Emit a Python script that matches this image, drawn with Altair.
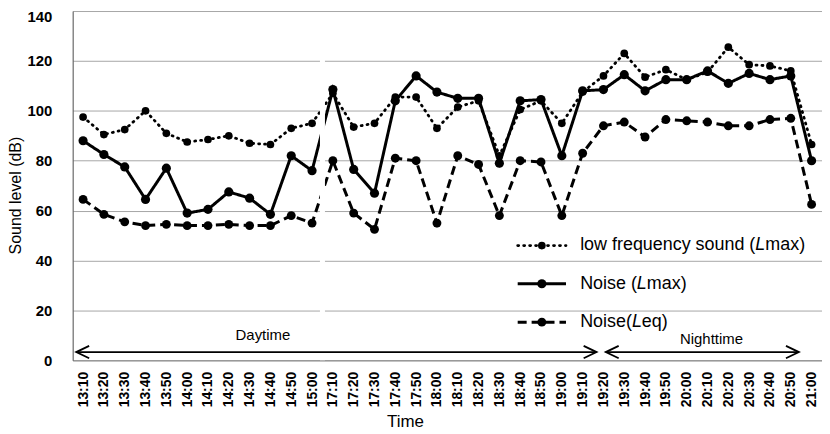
import altair as alt
import pandas as pd

# ---------------- data ----------------
times = ["13:10", "13:20", "13:30", "13:40", "13:50", "14:00", "14:10", "14:20",
         "14:30", "14:40", "14:50", "15:00",
         "17:10", "17:20", "17:30", "17:40", "17:50", "18:00", "18:10", "18:20",
         "18:30", "18:40", "18:50", "19:00", "19:10", "19:20", "19:30", "19:40",
         "19:50", "20:00", "20:10", "20:20", "20:30", "20:40", "20:50", "21:00"]

low_freq_lmax = [97.5, 90.5, 92.5, 100, 91, 87.5, 88.5, 90, 87, 86.5, 93, 95,
                 107, 93.5, 95, 105.5, 105.5, 93, 101.5, 104, 82, 100.5, 104, 95,
                 107.5, 114, 123, 113.5, 116.5, 112.5, 115.5, 125.5, 118.5, 118, 116, 86.5]

noise_lmax = [88, 82.5, 77.5, 64.5, 77, 59, 60.5, 67.5, 65, 58.5, 82, 76,
              108.5, 76.5, 67, 104, 114, 107.5, 105, 105, 79, 104, 104.5, 82,
              108, 108.5, 114.5, 108, 112.5, 112.5, 116, 111, 115, 112.5, 114, 80]

noise_leq = [64.5, 58.5, 55.5, 54, 54.5, 54, 54, 54.5, 54, 54, 58, 55,
             80, 59, 52.5, 81, 80, 55, 82, 78.5, 58, 80, 79.5, 58,
             83, 94, 95.5, 89.5, 96.5, 96, 95.5, 94, 94, 96.5, 97, 62.5]

series_names = ["low", "lmax", "leq"]
legend_parts = [("low frequency sound (", "L", "max)"),
                ("Noise (", "L", "max)"),
                ("Noise(", "L", "eq)")]

y_ticks = [0, 20, 40, 60, 80, 100, 120, 140]

# annotation layout (in axis units)
legend_line_x = [20.88, 23.2]
legend_line_y = [46, 30.7, 15.3]
legend_text_y = [44.2, 28.4, 13.5]
legend_text_x = 23.88
period_labels = ["Daytime", "Nighttime"]
period_label_x = [8.64, 30.19]
period_label_y = [8.1, 6.4]
period_arrow_from = [-0.33, 25.11]
period_arrow_to = [24.67, 34.39]
arrow_y = 3.3
gap_after = 11  # splice gap between 15:00 and 17:10

# ---------------- layout ----------------
W, H = 753, 351
PX = W / len(times)
FONT = "Liberation Sans"
LEG_FS = 18

AW = {' ': 278, '(': 333, ')': 333, 'L': 556, 'N': 722, 'a': 556, 'c': 500, 'd': 556,
      'e': 556, 'f': 278, 'i': 222, 'l': 222, 'm': 833, 'n': 556, 'o': 556, 'q': 556,
      'r': 333, 's': 500, 'u': 556, 'w': 722, 'x': 500, 'y': 500}


def text_w(s, fs):
    return sum(AW.get(c, 556) for c in s) / 1000 * fs


# main long table
rows = []
for name, vals in zip(series_names, [low_freq_lmax, noise_lmax, noise_leq]):
    for i, v in enumerate(vals):
        rows.append({"x": i, "y": v, "series": name, "grp": "main"})
for name, yy in zip(series_names, legend_line_y):
    for xx in legend_line_x:
        rows.append({"x": xx, "y": yy, "series": name, "grp": "legend"})
df_lines = pd.DataFrame(rows)

pts = [r for r in rows if r["grp"] == "main"]
for name, yy in zip(series_names, legend_line_y):
    pts.append({"x": sum(legend_line_x) / 2, "y": yy, "series": name, "grp": "legend"})
df_pts = pd.DataFrame(pts)

label_expr = "[" + ",".join("'%s'" % t for t in times) + "][datum.value]"

xscale = alt.Scale(domain=[-0.5, len(times) - 0.5], nice=False, zero=False)
yscale = alt.Scale(domain=[0, 140], nice=False)

xaxis = alt.Axis(values=list(range(len(times))), labelExpr=label_expr, labelAngle=270,
                 labelAlign="right", labelBaseline="middle", labelFont=FONT,
                 labelFontSize=14, labelFontWeight="bold", labelColor="black",
                 labelPadding=11, labelOverlap=False, labelFlush=False,
                 ticks=False, tickSize=0, grid=False, domainColor="#8a8a8a",
                 title="Time", titleFont=FONT, titleFontSize=17, titleFontWeight="normal",
                 titleColor="black", titleX=334, titleY=67, titleAlign="center",
                 titleBaseline="alphabetic")
yaxis = alt.Axis(values=y_ticks, labelFont=FONT, labelFontSize=15, labelFontWeight="bold",
                 labelColor="black", labelPadding=21, ticks=False, tickSize=0,
                 labelOffset={"expr": "datum.value == 140 ? 6 : 0"},
                 grid=True, gridColor="#a6a6a6", gridWidth=1, domainColor="#5a5a5a",
                 title="Sound level (dB)", titleFont=FONT, titleFontSize=16,
                 titleFontWeight="normal", titleColor="black", titleAngle=270,
                 titleX=-57, titleY=185, titleAlign="center", titleBaseline="middle")

X = alt.X("x:Q", scale=xscale, axis=xaxis)
Y = alt.Y("y:Q", scale=yscale, axis=yaxis)

styles = {
    "low": dict(dash=[1, 5], width=2.8, cap="round", size=60),
    "lmax": dict(dash=[1, 0], width=3, cap="butt", size=85),
    "leq": dict(dash=[9, 5], width=3, cap="butt", size=80),
}

layers = []
for name in series_names:
    st = styles[name]
    layers.append(
        alt.Chart(df_lines).transform_filter(alt.datum.series == name)
        .mark_line(color="black", strokeWidth=st["width"], strokeDash=st["dash"],
                   strokeCap=st["cap"])
        .encode(x=X, y=Y, detail="grp:N", order="x:Q")
    )
for name in series_names:
    st = styles[name]
    layers.append(
        alt.Chart(df_pts).transform_filter(alt.datum.series == name)
        .mark_point(filled=True, shape="circle", size=st["size"], color="black", opacity=1)
        .encode(x=X, y=Y)
    )

# splice gap
gap_df = pd.DataFrame({"x": [gap_after + 0.38], "x2": [gap_after + 0.62],
                       "y": [0], "y2": [124]})
layers.append(alt.Chart(gap_df).mark_rect(color="white")
              .encode(x=X, x2="x2:Q", y=Y, y2="y2:Q"))

# period arrows
arr_df = pd.DataFrame({"x": period_arrow_from, "x2": period_arrow_to,
                       "y": [arrow_y, arrow_y]})
layers.append(alt.Chart(arr_df).mark_rule(color="black", strokeWidth=1.8)
              .encode(x=X, x2="x2:Q", y=Y))
left_heads = pd.DataFrame({"x": period_arrow_from, "y": [arrow_y, arrow_y]})
right_heads = pd.DataFrame({"x": period_arrow_to, "y": [arrow_y, arrow_y]})
layers.append(alt.Chart(left_heads).mark_point(shape="M1,-0.48L0,0L1,0.48", size=676,
                                                filled=False, color="black",
                                                strokeWidth=1.8, opacity=1)
              .encode(x=X, y=Y))
layers.append(alt.Chart(right_heads).mark_point(shape="M-1,-0.48L0,0L-1,0.48", size=676,
                                                 filled=False, color="black",
                                                 strokeWidth=1.8, opacity=1)
              .encode(x=X, y=Y))

per_df = pd.DataFrame({"x": period_label_x, "y": period_label_y, "t": period_labels})
layers.append(alt.Chart(per_df).mark_text(font=FONT, fontSize=15, color="black",
                                           align="center", baseline="alphabetic")
              .encode(x=X, y=Y, text="t:N"))

# legend text pieces
reg, ital = [], []
for (pre, L, suf), yy in zip(legend_parts, legend_text_y):
    x_l = legend_text_x + text_w(pre, LEG_FS) / PX
    x_s = x_l + text_w(L, LEG_FS) / PX
    reg.append({"x": legend_text_x, "y": yy, "t": pre})
    reg.append({"x": x_s, "y": yy, "t": suf})
    ital.append({"x": x_l, "y": yy, "t": L})
layers.append(alt.Chart(pd.DataFrame(reg)).mark_text(font=FONT, fontSize=LEG_FS,
                                                      color="black", align="left",
                                                      baseline="alphabetic")
              .encode(x=X, y=Y, text="t:N"))
layers.append(alt.Chart(pd.DataFrame(ital)).mark_text(font=FONT, fontSize=LEG_FS,
                                                       fontStyle="italic",
                                                       color="black", align="left",
                                                       baseline="alphabetic")
              .encode(x=X, y=Y, text="t:N"))

chart = alt.layer(*layers).properties(
    width=W, height=H,
    autosize=alt.AutoSizeParams(type="none"),
    padding={"left": 65, "top": 2, "right": 0, "bottom": 71},
).configure_view(stroke="#8c8c8c", strokeWidth=1).configure(background="white")

chart.save("out.html", embed_options={"renderer": "svg", "actions": False})
